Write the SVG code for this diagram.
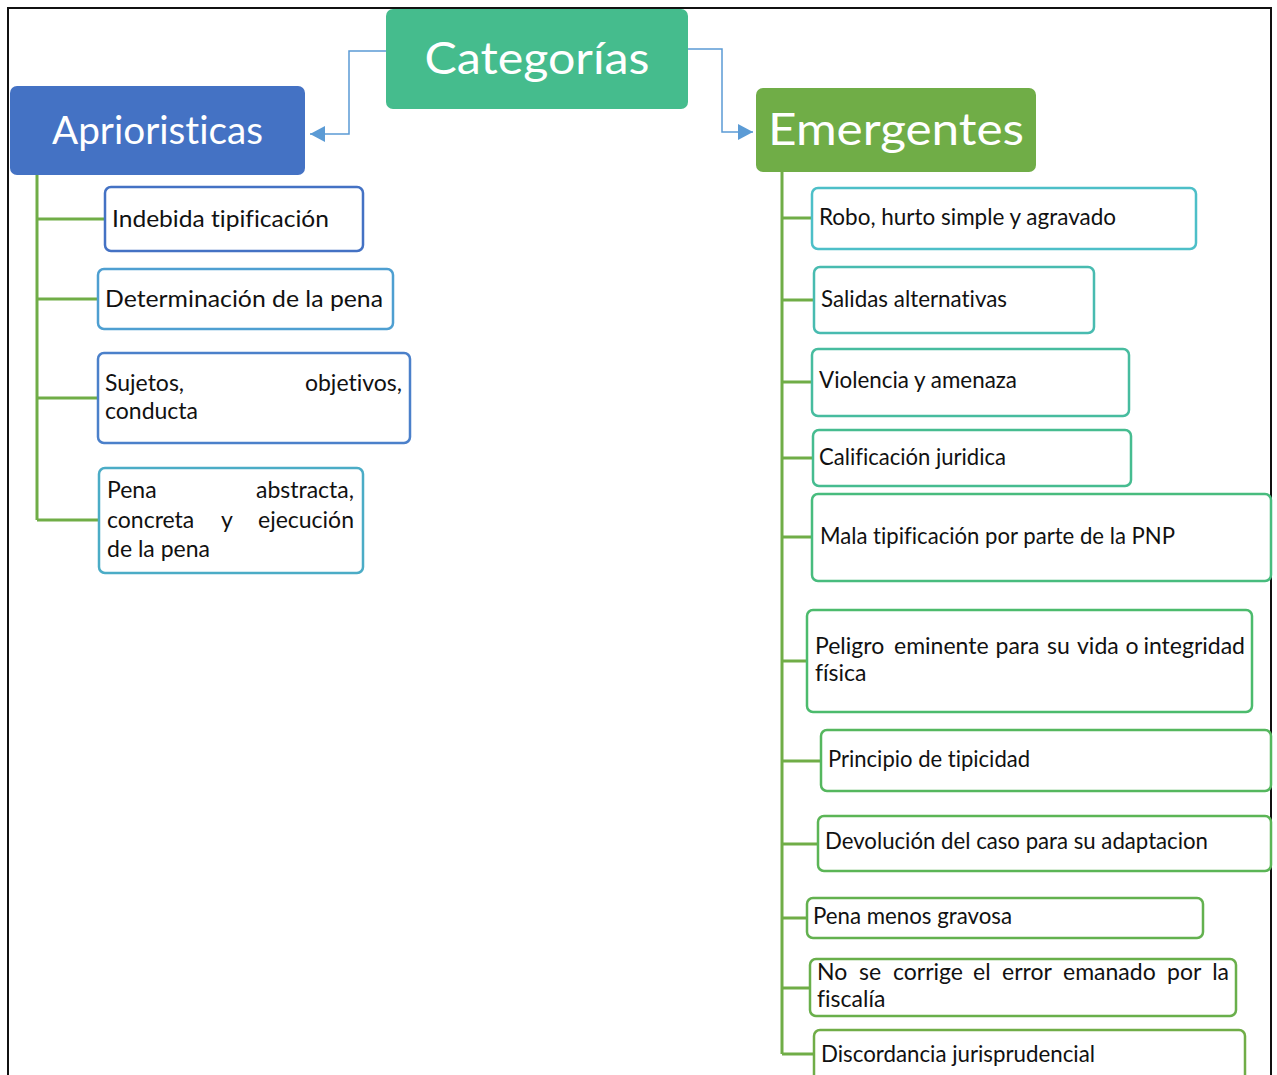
<svg xmlns="http://www.w3.org/2000/svg" width="1277" height="1075" viewBox="0 0 1277 1075">
<style>
.hdr{font-family:Lato,"Open Sans","Liberation Sans",sans-serif;fill:#fff;text-anchor:middle;font-variant-ligatures:none;font-feature-settings:"liga" 0}
.t{font-family:Lato,"Open Sans","Liberation Sans",sans-serif;font-size:23px;fill:#111;font-variant-ligatures:none;font-feature-settings:"liga" 0}
.box{fill:#fff;stroke-width:2.5}
.tree{fill:none;stroke:#70AD47;stroke-width:3}
.arr{fill:none;stroke:#5B9BD5;stroke-width:1.5}
</style>
<defs>
<marker id="ah" markerUnits="userSpaceOnUse" markerWidth="16" markerHeight="16" refX="15" refY="8" orient="auto">
<path d="M0,0 L15,8 L0,16 Z" fill="#5B9BD5"/>
</marker>
</defs>
<rect x="0" y="0" width="1277" height="1075" fill="#fff"/>
<path d="M8,1080 V8 H1271 V1080" fill="none" stroke="#111" stroke-width="2"/>

<g id="connectors">
<path class="arr" d="M386,51 H349 V134 H310" marker-end="url(#ah)"/>
<path class="arr" d="M688,49 H722 V132 H753" marker-end="url(#ah)"/>
<path class="tree" d="M37,175 V520 M37,219 H105 M37,299 H98 M37,398 H98 M37,520 H99"/>
<path class="tree" d="M782,172 V1054 M782,218 H812 M782,300 H814 M782,382 H812 M782,458 H813 M782,537 H812 M782,661 H807 M782,761 H821 M782,844 H818 M782,918 H807 M782,988 H810 M782,1054 H814"/>
</g>

<g id="categorias">
<rect x="386" y="9" width="302" height="100" rx="7" fill="#45BC8D"/>
<text class="hdr" x="537" y="74" font-size="44" textLength="225" lengthAdjust="spacingAndGlyphs">Categorías</text>
</g>
<g id="aprioristicas">
<rect x="10" y="86" width="295" height="89" rx="7" fill="#4472C4"/>
<text class="hdr" x="157.5" y="144" font-size="39" textLength="211" lengthAdjust="spacingAndGlyphs">Aprioristicas</text>
</g>
<g id="emergentes">
<rect x="756" y="88" width="280" height="84" rx="7" fill="#70AD47"/>
<text class="hdr" x="896" y="145" font-size="45" textLength="256" lengthAdjust="spacingAndGlyphs">Emergentes</text>
</g>

<g id="a1">
<rect class="box" x="105" y="187" width="258" height="64" rx="6" stroke="#4472C4"/>
<text class="t" x="112" y="227" textLength="217" lengthAdjust="spacingAndGlyphs">Indebida tipificación</text>
</g>
<g id="a2">
<rect class="box" x="98" y="269" width="295" height="60" rx="6" stroke="#4E9FD1"/>
<text class="t" x="105" y="307" textLength="278" lengthAdjust="spacingAndGlyphs">Determinación de la pena</text>
</g>
<g id="a3">
<rect class="box" x="98" y="353" width="312" height="90" rx="6" stroke="#4B80CA"/>
<text class="t" y="391"><tspan x="105">Sujetos,</tspan><tspan x="402" text-anchor="end">objetivos,</tspan></text>
<text class="t" x="105" y="419">conducta</text>
</g>
<g id="a4">
<rect class="box" x="99" y="468" width="264" height="105" rx="6" stroke="#4BACC6"/>
<text class="t" y="498"><tspan x="107">Pena</tspan><tspan x="354" text-anchor="end">abstracta,</tspan></text>
<text class="t" y="528"><tspan x="107">concreta</tspan><tspan x="221">y</tspan><tspan x="354" text-anchor="end">ejecución</tspan></text>
<text class="t" x="107" y="557">de la pena</text>
</g>

<g id="e1">
<rect class="box" x="812" y="188" width="384" height="61" rx="6" stroke="#4DBFC8"/>
<text class="t" x="819" y="225" textLength="297" lengthAdjust="spacingAndGlyphs">Robo, hurto simple y agravado</text>
</g>
<g id="e2">
<rect class="box" x="814" y="267" width="280" height="66" rx="6" stroke="#48BBB0"/>
<text class="t" x="821" y="307" textLength="186" lengthAdjust="spacingAndGlyphs">Salidas alternativas</text>
</g>
<g id="e3">
<rect class="box" x="812" y="349" width="317" height="67" rx="6" stroke="#47BC9F"/>
<text class="t" x="819" y="388" textLength="198" lengthAdjust="spacingAndGlyphs">Violencia y amenaza</text>
</g>
<g id="e4">
<rect class="box" x="813" y="430" width="318" height="56" rx="6" stroke="#46BC90"/>
<text class="t" x="819" y="465" textLength="187" lengthAdjust="spacingAndGlyphs">Calificación juridica</text>
</g>
<g id="e5">
<rect class="box" x="812" y="494" width="459" height="87" rx="6" stroke="#48BC7E"/>
<text class="t" x="820" y="544" textLength="355" lengthAdjust="spacingAndGlyphs">Mala tipificación por parte de la PNP</text>
</g>
<g id="e6">
<rect class="box" x="807" y="610" width="445" height="102" rx="6" stroke="#4CBB6D"/>
<text class="t" y="654"><tspan x="815">Peligro</tspan><tspan x="894">eminente</tspan><tspan x="995.5">para</tspan><tspan x="1047">su</tspan><tspan x="1077">vida</tspan><tspan x="1125.5">o</tspan><tspan x="1245" text-anchor="end">integridad</tspan></text>
<text class="t" x="815" y="681">física</text>
</g>
<g id="e7">
<rect class="box" x="821" y="730" width="450" height="61" rx="6" stroke="#55B75E"/>
<text class="t" x="828" y="767" textLength="202" lengthAdjust="spacingAndGlyphs">Principio de tipicidad</text>
</g>
<g id="e8">
<rect class="box" x="818" y="816" width="453" height="55" rx="6" stroke="#5BB556"/>
<text class="t" x="825" y="849" textLength="383" lengthAdjust="spacingAndGlyphs">Devolución del caso para su adaptacion</text>
</g>
<g id="e9">
<rect class="box" x="807" y="898" width="396" height="40" rx="6" stroke="#63B14F"/>
<text class="t" x="813" y="924" textLength="199" lengthAdjust="spacingAndGlyphs">Pena menos gravosa</text>
</g>
<g id="e10">
<rect class="box" x="810" y="959" width="426" height="57" rx="6" stroke="#69AF4B"/>
<text class="t" y="980"><tspan x="817">No</tspan><tspan x="859">se</tspan><tspan x="893">corrige</tspan><tspan x="973">el</tspan><tspan x="1002">error</tspan><tspan x="1063">emanado</tspan><tspan x="1167">por</tspan><tspan x="1229" text-anchor="end">la</tspan></text>
<text class="t" x="817" y="1007">fiscalía</text>
</g>
<g id="e11">
<rect class="box" x="814" y="1030" width="431" height="70" rx="6" stroke="#70AD47"/>
<text class="t" x="821" y="1062" textLength="274" lengthAdjust="spacingAndGlyphs">Discordancia jurisprudencial</text>
</g>
</svg>
